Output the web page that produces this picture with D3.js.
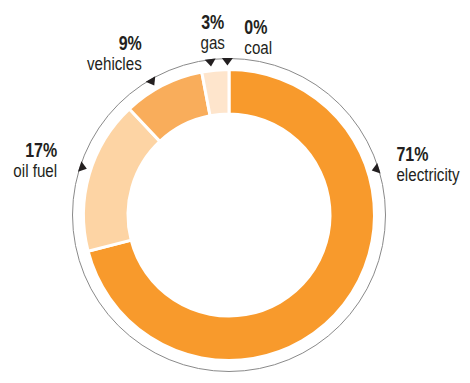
<!DOCTYPE html>
<html>
<head>
<meta charset="utf-8">
<script src="https://cdn.jsdelivr.net/npm/d3@7"></script>
<style>
  html, body { margin: 0; padding: 0; background: #fff; }
  svg { display: block; }
  text { font-family: "Liberation Sans", Arial, sans-serif; fill: #231f20; }
  .pct { font-weight: bold; font-size: 19.5px; }
  .name { font-size: 18.5px; }
</style>
</head>
<body>
<svg id="chart" width="470" height="383"></svg>
<script>
// Share of energy use by source (percent)
const categories = ["electricity", "oil fuel", "vehicles", "gas", "coal"];
const shares = [71, 17, 9, 3, 0];
const colors = ["#f89a2c", "#fdd4a4", "#f9ad5b", "#fee5cc", "#fee5cc"];

// Label placement: marker angle (degrees, clockwise from 12 o'clock),
// text offset from the marker, and text anchor.
const labelLayout = {
  "electricity": { angle: 72.7,  dx: 18,  dy: -7.5, anchor: "start" },
  "oil fuel":    { angle: 288,   dx: -23, dy: -10, anchor: "end" },
  "vehicles":    { angle: 330,   dx: -9,  dy: -29, anchor: "end" },
  "gas":         { angle: 353.1, dx: 2.5, dy: -30.5, anchor: "middle" },
  "coal":        { angle: 359.4, dx: 17,  dy: -25, anchor: "start" }
};

const cx = 229, cy = 215;
const outerR = 145.5, innerR = 101, ringR = 156.5;
const lineGap = 20;
const condense = 0.82;   // narrow the type horizontally

const svg = d3.select("#chart");
const g = svg.append("g").attr("transform", `translate(${cx},${cy})`);

const data = categories.map((c, i) => ({ name: c, value: shares[i], color: colors[i] }));

const pie = d3.pie().sort(null).value(d => d.value);
const arc = d3.arc().innerRadius(innerR).outerRadius(outerR);

// Thin outer ring
g.append("circle")
  .attr("r", ringR)
  .attr("fill", "none")
  .attr("stroke", "#8a8a8a")
  .attr("stroke-width", 1);

// Donut slices
g.selectAll("path.slice")
  .data(pie(data).filter(d => d.data.value > 0))
  .join("path")
  .attr("class", "slice")
  .attr("d", arc)
  .attr("fill", d => d.data.color)
  .attr("stroke", "#fff")
  .attr("stroke-width", 3)
  .attr("stroke-linejoin", "miter");

// Pointer triangles sitting on the ring, pointing at the centre
const triH = 7, triW = 11;
data.forEach(d => {
  const L = labelLayout[d.name];
  const a = L.angle * Math.PI / 180;
  const ux = Math.sin(a), uy = -Math.cos(a);    // outward unit vector
  const px = -uy, py = ux;                       // tangent
  const bx = ux * (ringR + 0.5), by = uy * (ringR + 0.5);
  const tx = ux * (ringR - triH), ty = uy * (ringR - triH);
  const pts = [
    [bx + px * triW / 2, by + py * triW / 2],
    [bx - px * triW / 2, by - py * triW / 2],
    [tx, ty]
  ];
  g.append("path")
    .attr("d", d3.line()(pts) + "Z")
    .attr("fill", "#231f20");

  const ax = ux * ringR, ay = uy * ringR;
  const lg = g.append("g")
    .attr("transform", `translate(${ax + L.dx},${ay + L.dy}) scale(${condense},1)`);
  lg.append("text")
    .attr("class", "pct")
    .attr("text-anchor", L.anchor)
    .attr("y", 0)
    .text(d3.format("d")(d.value) + "%");
  lg.append("text")
    .attr("class", "name")
    .attr("text-anchor", L.anchor)
    .attr("y", lineGap)
    .text(d.name);
});
</script>
</body>
</html>
